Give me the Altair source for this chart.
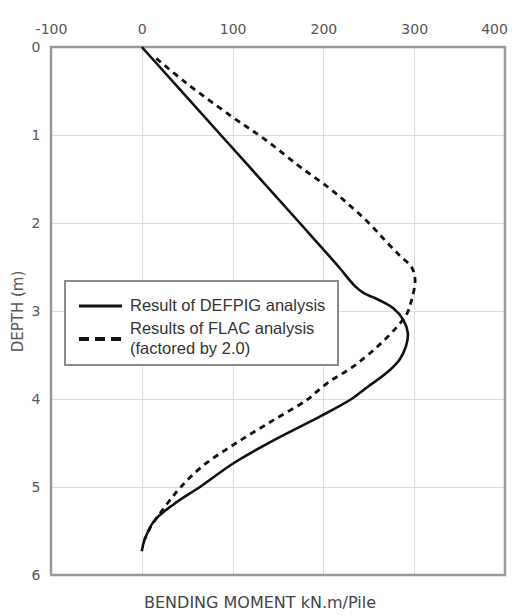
import altair as alt
import pandas as pd

# ---- data ----
defpig_depth = [0.0, 1.0, 2.0, 2.5, 2.72, 2.8, 2.85, 2.9, 2.97, 3.1, 3.25, 3.4, 3.55, 3.7, 3.86, 4.0,
                4.2, 4.47, 4.73, 5.0, 5.19, 5.38, 5.6, 5.73]
defpig_moment = [0, 87, 174, 217, 235, 245, 256, 266, 277, 288, 293, 291, 284, 270, 249, 231,
                 196, 145, 101, 64, 36, 14, 3, 0]

flac_depth = [0.13, 0.41, 0.79, 1.06, 1.36, 1.6, 1.8, 2.0, 2.21, 2.38, 2.5, 2.65, 2.88, 3.03,
              3.18, 3.4, 3.63, 3.8, 3.94, 4.01, 4.24, 4.5, 4.77, 5.0, 5.15, 5.3, 5.45, 5.6]
flac_moment = [16, 49, 99, 137, 174, 206, 229, 250, 269, 285, 297, 301, 297, 292,
               281, 260, 233, 207, 190, 182, 145, 104, 66, 43, 31, 20, 10, 3]

x_ticks = [-100, 0, 100, 200, 300, 400]
y_ticks = [0, 1, 2, 3, 4, 5, 6]
legend_labels = ["Result of DEFPIG analysis", "Results of FLAC analysis", "(factored by 2.0)"]
x_title = "BENDING MOMENT kN.m/Pile"
y_title = "DEPTH (m)"

W, H = 454, 528

defpig = pd.DataFrame({"depth": defpig_depth, "moment": defpig_moment,
                       "idx": list(range(len(defpig_depth)))})
flac = pd.DataFrame({"depth": flac_depth, "moment": flac_moment,
                     "idx": list(range(len(flac_depth)))})
one = pd.DataFrame({"k": [0]})

x_scale = alt.Scale(domain=[-100, 400], nice=False, zero=False)
y_scale = alt.Scale(domain=[0, 6], reverse=True, nice=False, zero=False)

x_axis = alt.Axis(orient="top", values=x_ticks, title=None, ticks=False, domain=False,
                  grid=True, gridColor="#dcdcdc", gridWidth=1, labelFlush=False,
                  labelFont="DejaVu Sans", labelFontSize=14, labelColor="#555",
                  labelPadding=11, labelExpr="'' + datum.value",
                  labelOffset={"condition": {"test": "datum.value === 400", "value": -11},
                               "value": 0})
y_axis = alt.Axis(values=y_ticks, title=y_title, ticks=False, domain=False,
                  grid=True, gridColor="#dcdcdc", gridWidth=1, labelFlush=False,
                  labelFont="DejaVu Sans", labelFontSize=14, labelColor="#555",
                  labelPadding=11, labelExpr="'' + datum.value",
                  titleFont="DejaVu Sans", titleFontSize=15,
                  titleFontWeight="normal", titleColor="#555", titlePadding=6)

solid = alt.Chart(defpig).mark_line(color="#111", strokeWidth=2.6, interpolate="catmull-rom").encode(
    x=alt.X("moment:Q", scale=x_scale, axis=x_axis),
    y=alt.Y("depth:Q", scale=y_scale, axis=y_axis),
    order=alt.Order("idx:Q"),
)
dashed = alt.Chart(flac).mark_line(color="#111", strokeWidth=2.8, strokeDash=[6, 5],
                                   interpolate="catmull-rom").encode(
    x=alt.X("moment:Q", scale=x_scale),
    y=alt.Y("depth:Q", scale=y_scale),
    order=alt.Order("idx:Q"),
)

# plot frame
frame = alt.Chart(one).mark_rect(fillOpacity=0, stroke="#999", strokeWidth=2.5).encode(
    x=alt.value(0), x2=alt.value(W), y=alt.value(0), y2=alt.value(H))

# ---- hand-built legend box ----
box = alt.Chart(one).mark_rect(fill="white", stroke="#8a8a8a", strokeWidth=2).encode(
    x=alt.value(14), x2=alt.value(287), y=alt.value(234), y2=alt.value(318))
sym_solid = alt.Chart(one).mark_rule(color="#111", strokeWidth=3).encode(
    x=alt.value(28), x2=alt.value(71), y=alt.value(259))
sym_dash = alt.Chart(one).mark_rule(color="#111", strokeWidth=4, strokeDash=[10, 6]).encode(
    x=alt.value(28), x2=alt.value(71), y=alt.value(292))
text_y = [259, 282, 302]
texts = [
    alt.Chart(one).mark_text(align="left", baseline="middle", font="Liberation Sans",
                             fontSize=16.5, color="#333").encode(
        x=alt.value(79), y=alt.value(ty), text=alt.value(lbl))
    for lbl, ty in zip(legend_labels, text_y)
]

chart = alt.layer(frame, solid, dashed, box, sym_solid, sym_dash, *texts).properties(
    width=W, height=H,
    autosize=alt.AutoSizeParams(type="none"),
    padding={"left": 43, "top": 39, "right": 3, "bottom": 40},
    title=alt.TitleParams(x_title, orient="bottom", font="DejaVu Sans", fontSize=16,
                          fontWeight="normal", color="#444", offset=13, dx=-18),
).configure_view(stroke=None).configure(background="white")

chart.save("out.html", embed_options={"renderer": "svg", "actions": False})
